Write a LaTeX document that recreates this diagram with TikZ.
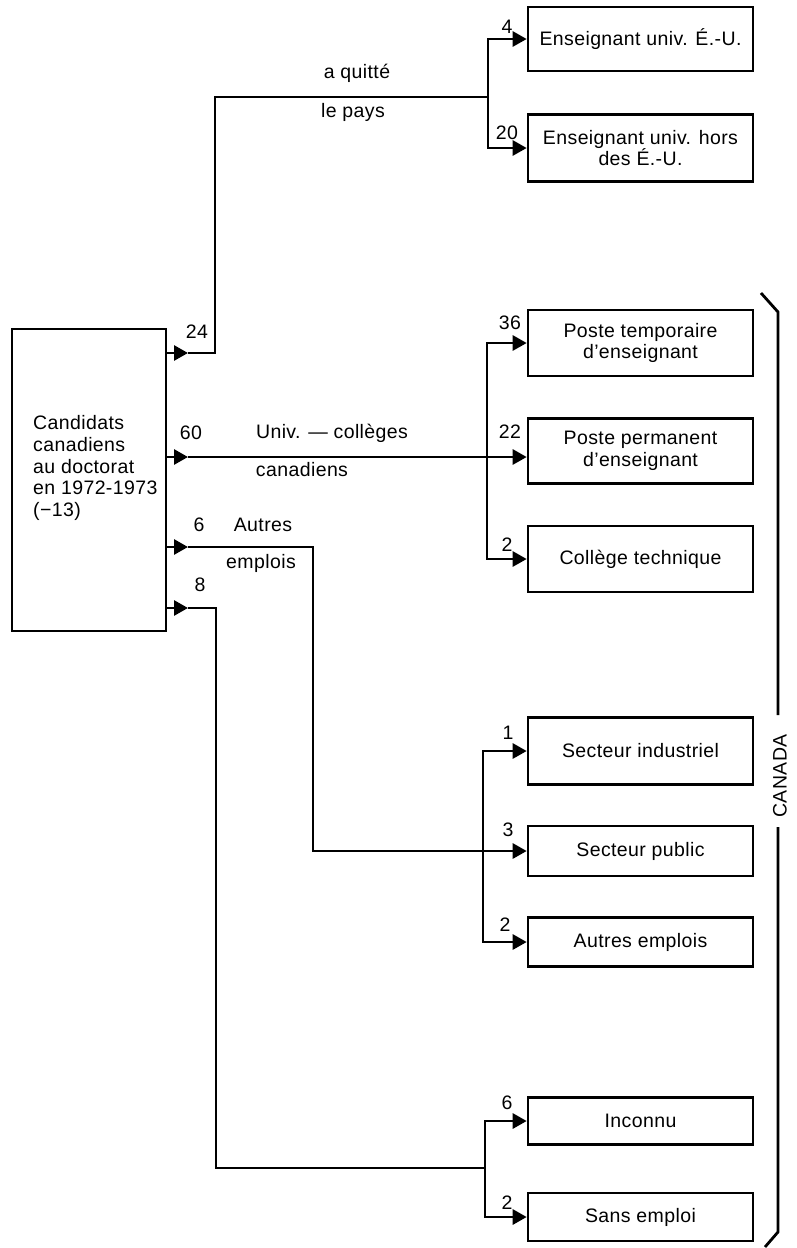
\documentclass[tikz,border=0pt]{standalone}
\usepackage{fontspec}
\setmainfont{Liberation Sans}[LetterSpace=2]
\usetikzlibrary{arrows.meta, positioning}

\begin{document}
\begin{tikzpicture}[
  x=1pt, y=-1pt,
  every node/.style={font=\fontsize{19.5}{21.7}\selectfont},
  box/.style={draw, line width=2.6pt, minimum width=225pt, align=center, inner sep=2pt},
  mainbox/.style={draw, line width=2.6pt, minimum width=154pt, minimum height=302pt},
  line/.style={line width=2.8pt},
  arr/.style={line, -{Triangle[length=14pt, width=15pt]}}
]
\useasboundingbox (0,0) rectangle (796,1248);

% source box
\node[mainbox] (cand) at (89,480) {};
\node[align=left, anchor=west, inner sep=0pt] (candtxt) at (33,468)
  {Candidats\\canadiens\\au doctorat\\en 1972-1973\\(−13)};

% destinations
\node[box, minimum height=64pt] (eu) at (640.5,39) {Enseignant univ. É.-U.};
\node[box, minimum height=67pt] (horseu) at (640.5,148) {Enseignant univ. hors\\des É.-U.};

\node[box, minimum height=66pt] (temp) at (640.5,343) {Poste temporaire\\d’enseignant};
\node[box, minimum height=65pt] (perm) at (640.5,451) {Poste permanent\\d’enseignant};
\node[box, minimum height=66pt] (coll) at (640.5,559) {Collège technique};

\node[box, minimum height=67pt] (ind) at (640.5,751) {Secteur industriel};
\node[box, minimum height=50pt] (pub) at (640.5,851) {Secteur public};
\node[box, minimum height=49pt] (autr) at (640.5,942) {Autres emplois};

\node[box, minimum height=47pt] (inc) at (640.5,1121) {Inconnu};
\node[box, minimum height=48pt] (sans) at (640.5,1217) {Sans emploi};

% bracket
\node[rotate=90, inner sep=0pt] (canada) at (780,776) {CANADA};
\draw[line] (761,293) -- (778,312) -- (778,715);
\draw[line] (778,827) -- (778,1232) -- (765,1247);

% exits from the source
\coordinate (o24) at (188,353);
\coordinate (o60) at (188,457);
\coordinate (o6) at (188,547);
\coordinate (o8) at (188,608);
\draw[arr] (cand.east |- o24) -- (o24);
\draw[arr] (cand.east |- o60) -- (o60);
\draw[arr] (cand.east |- o6) -- (o6);
\draw[arr] (cand.east |- o8) -- (o8);

\node (n24) at (197,332) {24};
\node (n60) at (191,433) {60};
\node (n6) at (199,525) {6};
\node (n8) at (200,585) {8};

% left the country
\coordinate (jq) at (488,97);
\draw[line] (o24) -- ++(27,0) |- (jq);
\draw[arr] (jq) |- (eu.west);
\draw[arr] (jq) |- (horseu.west);
\node (quit) at (357,73) {a quitté};
\node (pays) at (353,112) {le pays};
\node (n4) at (507,27) {4};
\node (n20) at (507,133) {20};

% universities and colleges
\coordinate (j60) at (487,457);
\draw[arr] (o60) -- (perm.west |- o60);
\draw[arr] (j60) |- (temp.west);
\draw[arr] (j60) |- (coll.west);
\node (univ) at (332,433) {Univ. — collèges};
\node (canad) at (302,470) {canadiens};
\node (n36) at (510,323) {36};
\node (n22) at (510,432) {22};
\node (n2a) at (507,545) {2};

% other jobs
\coordinate (j6) at (483,851);
\draw[arr] (o6) -- ++(125,0) |- (pub.west);
\draw[arr] (j6) |- (ind.west);
\draw[arr] (j6) |- (autr.west);
\node (autres) at (263,525) {Autres};
\node (empl) at (261,563) {emplois};
\node (n1) at (508,733) {1};
\node (n3) at (508,830) {3};
\node (n2b) at (505,925) {2};

% unknown / unemployed
\coordinate (j8) at (485,1168);
\draw[line] (o8) -- ++(28,0) |- (j8);
\draw[arr] (j8) |- (inc.west);
\draw[arr] (j8) |- (sans.west);
\node (n6b) at (507,1103) {6};
\node (n2c) at (507,1203) {2};
\end{tikzpicture}
\end{document}
